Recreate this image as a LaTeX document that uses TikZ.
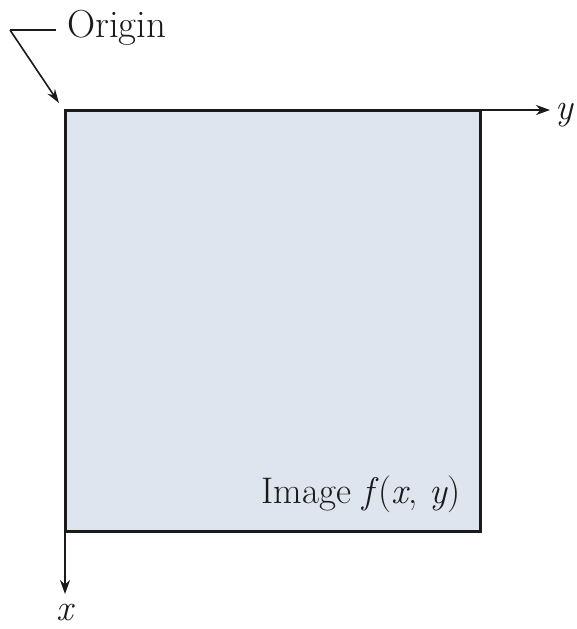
\documentclass[tikz,border=0pt]{standalone}
\usetikzlibrary{arrows.meta}
\definecolor{imgfill}{HTML}{DFE5EE}
\definecolor{ink}{HTML}{1A1A1A}
\tikzset{
  lbl/.style={font=\fontsize{37}{42}\selectfont, text=ink, inner sep=0pt},
  axis/.style={draw=ink, line width=2.6pt, -{Stealth[length=14pt,width=10pt]}},
  leader/.style={draw=ink, line width=1.6pt}
}
\begin{document}
\begin{tikzpicture}[x=1pt,y=-1pt]
\useasboundingbox (0,0) rectangle (577,629);
\coordinate (O) at (65,110);
\coordinate (ytip) at (550,110);
\coordinate (xtip) at (65,594);
\fill[imgfill] (65,110) rectangle (480,531);
\draw[ink, line width=3pt] (65,110) -- (480,110) -- (480,531) -- (65,531) -- cycle;
\draw[axis] (O) -- (ytip);
\draw[axis] (O) -- (xtip);
\node[lbl, anchor=base west] (ylab) at (555,119) {\itshape y};
\node[lbl, anchor=base] (xlab) at (65,620) {\itshape x};
\node[lbl, anchor=base west] (orig) at (67,37) {\fontsize{39}{44}\selectfont Origin};
\coordinate (lstart) at (10,30);
\coordinate (lend) at (56,30);
\draw[leader] (lend) -- (lstart);
\draw[leader, -{Stealth[length=14pt,width=9pt]}] (lstart) -- (59,103);
\node[lbl, anchor=base east] (imglab) at (461,503) {Image \textit{f}(\textit{x}, \textit{y})};
\end{tikzpicture}
\end{document}
